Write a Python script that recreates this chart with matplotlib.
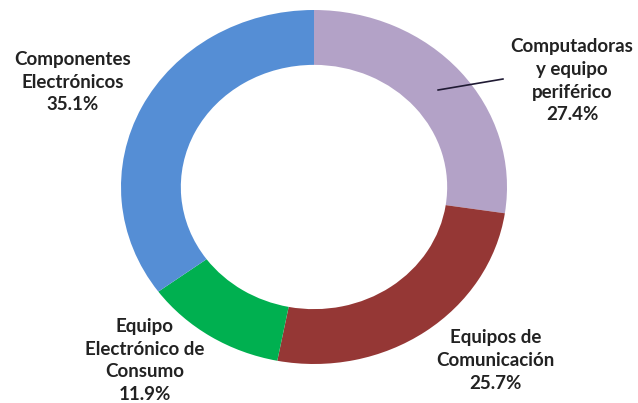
import matplotlib.pyplot as plt

# Composición de la industria electrónica por segmento
categorias = ['Computadoras\ny equipo\nperiférico',
              'Equipos de\nComunicación',
              'Equipo\nElectrónico de\nConsumo',
              'Componentes\nElectrónicos']
porcentajes = [27.4, 25.7, 11.9, 35.1]
colores = ['#B3A2C7', '#953735', '#00B050', '#558ED5']

plt.rcParams['font.family'] = ['Lato', 'DejaVu Sans']


def main():
    fig = plt.figure(figsize=(6.38, 4.03), dpi=100)
    # eje algo más ancho que alto: la dona se ve ligeramente achatada
    ax = fig.add_axes([121 / 638, 39 / 403, 386 / 638, 354 / 403])
    ax.pie(porcentajes, colors=colores, startangle=90, counterclock=False,
           radius=1, wedgeprops={'width': 0.31, 'linewidth': 0})
    ax.set_aspect('auto')
    ax.set_xlim(-1, 1)
    ax.set_ylim(-1, 1)
    ax.axis('off')

    # posiciones de las etiquetas en coordenadas de datos
    pos = [(1.337, 0.60), (0.94, -0.98), (-0.876, -0.98), (-1.25, 0.593)]
    for cat, val, (x, y) in zip(categorias, porcentajes, pos):
        ax.text(x, y, '%s\n%.1f%%' % (cat, val), ha='center', va='center',
                fontsize=13.5, fontweight='bold', color='#222222',
                linespacing=1.4, clip_on=False)

    # línea guía de la etiqueta de computadoras
    ax.plot([0.643, 0.979], [0.548, 0.61], color='#1F1A33', lw=1.2)

    fig.savefig('out.png', dpi=100)


if __name__ == '__main__':
    main()
